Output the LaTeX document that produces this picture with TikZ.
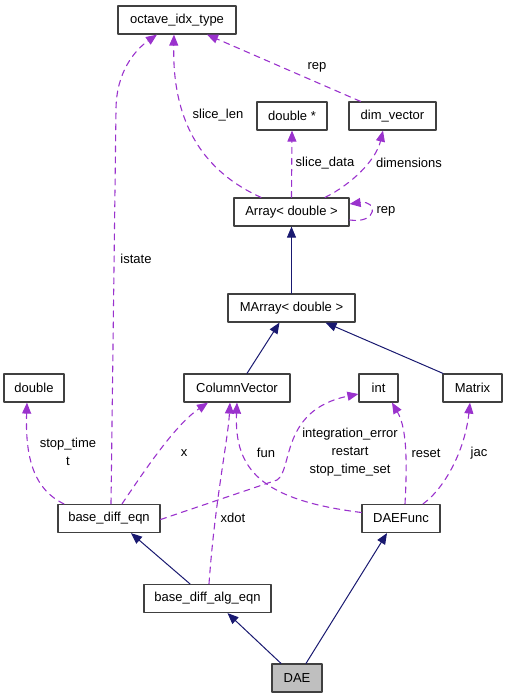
\documentclass[tikz,border=0pt]{standalone}
\usepackage{fontspec}
\setmainfont{Liberation Sans}
\usetikzlibrary{arrows.meta}
\definecolor{inhblue}{HTML}{191970}
\definecolor{usepurple}{HTML}{9A32CD}
\definecolor{boxgray}{HTML}{BFBFBF}
\definecolor{boxline}{HTML}{404040}
\begin{document}
\begin{tikzpicture}[x=1pt,y=-1pt,line cap=round,line join=round,font=\fontsize{13}{15}\selectfont,
  cls/.style={draw=boxline,line width=1.2pt,fill=white,minimum height=28pt,inner sep=0pt},
  inh/.style={color=inhblue,line width=1pt,-{Triangle[length=11pt,width=9pt]}},
  usage/.style={color=usepurple,line width=1.1pt,dash pattern=on 6pt off 5pt,-{Triangle[length=11pt,width=9pt]}},
  lbl/.style={inner sep=0pt,align=center,font=\fontsize{13}{18}\selectfont}]
  \useasboundingbox (0,0) rectangle (508,699);
  \node[cls,minimum width=118pt] (octidx) at (177,20) {octave\_idx\_type};
  \node[cls,minimum width=70pt] (dblptr) at (292,116) {double *};
  \node[cls,minimum width=87pt] (dimvec) at (392.5,116) {dim\_vector};
  \node[cls,minimum width=115pt] (arr) at (291.5,212) {Array< double >};
  \node[cls,minimum width=127pt] (marr) at (291.5,308) {MArray< double >};
  \node[cls,minimum width=60pt] (dbl) at (34,388) {double};
  \node[cls,minimum width=106pt] (colvec) at (237,388) {ColumnVector};
  \node[cls,minimum width=39pt] (intn) at (378.5,388) {int};
  \node[cls,minimum width=59pt] (matrix) at (472.5,388) {Matrix};
  \node[cls,minimum width=102pt] (bde) at (109,518.5) {base\_diff\_eqn};
  \node[cls,minimum width=78pt] (daefunc) at (401,518.5) {DAEFunc};
  \node[cls,minimum width=127pt] (bdae) at (207.5,598.5) {base\_diff\_alg\_eqn};
  \node[cls,minimum width=50pt,fill=boxgray] (dae) at (297,678) {DAE};
  \draw[inh] (marr.north) -- (arr.south);
  \draw[inh] ([xshift=10pt]colvec.north) -- ([xshift=-12pt]marr.south);
  \draw[inh] ([xshift=-29.5pt]matrix.north) -- ([xshift=34pt]marr.south);
  \draw[inh] ([xshift=-17.5pt]bdae.north) -- ([xshift=22pt]bde.south);
  \draw[inh] ([xshift=-16pt]dae.north) -- ([xshift=20pt]bdae.south);
  \draw[inh] ([xshift=9pt]dae.north) -- ([xshift=-14pt]daefunc.south);
  \draw[usage] ([xshift=-32pt]dimvec.north) -- ([xshift=30pt]octidx.south);
  \draw[usage] ([xshift=-30.5pt]arr.north) .. controls (205,172) and (172,125) .. ([xshift=-3pt]octidx.south);
  \draw[usage] (arr.north) -- (dblptr.south);
  \draw[usage] ([xshift=33.5pt]arr.north) .. controls (352,184) and (376,160) .. ([xshift=-9.5pt]dimvec.south);
  \draw[usage] ([yshift=-8pt]arr.east) .. controls (378,224) and (378,200) .. ([yshift=8pt]arr.east);
  \draw[usage] ([xshift=2pt]bde.north) -- (116,110) .. controls (116,72) and (135,50) .. ([xshift=-20pt]octidx.south);
  \draw[usage] ([xshift=-45pt]bde.north) .. controls (35,490) and (25,460) .. ([xshift=-7pt]dbl.south);
  \draw[usage] ([xshift=13pt]bde.north) .. controls (145,470) and (175,425) .. ([xshift=-29pt]colvec.south);
  \draw[usage] ([yshift=-1pt]bde.east) -- (277,480) .. controls (293,470) and (280,410) .. ([yshift=-6pt]intn.west);
  \draw[usage] ([yshift=6pt]daefunc.west) .. controls (262,500) and (234,470) .. (colvec.south);
  \draw[usage] ([xshift=1.5pt]bdae.north) .. controls (215,500) and (228,440) .. ([xshift=-7pt]colvec.south);
  \draw[usage] ([xshift=4pt]daefunc.north) .. controls (408,450) and (405,425) .. ([xshift=13.5pt]intn.south);
  \draw[usage] ([xshift=22pt]daefunc.north) .. controls (445,488) and (465,450) .. ([xshift=-2.5pt]matrix.south);
  \node[lbl] (lrepa) at (317,67) {rep};
  \node[lbl] (lslen) at (218,115) {slice\_len};
  \node[lbl] (lsdata) at (325,163) {slice\_data};
  \node[lbl] (ldims) at (409,163) {dimensions};
  \node[lbl] (lrepb) at (386,211) {rep};
  \node[lbl] (listate) at (136,259) {istate};
  \node[lbl] (lstop) at (68,452) {stop\_time\\t};
  \node[lbl] (lx) at (184,453) {x};
  \node[lbl] (lfun) at (266,453) {fun};
  \node[lbl] (lint) at (350,452) {integration\_error\\restart\\stop\_time\_set};
  \node[lbl] (lreset) at (426,453) {reset};
  \node[lbl] (ljac) at (479,453) {jac};
  \node[lbl] (lxdot) at (233,518) {xdot};
\end{tikzpicture}
\end{document}
